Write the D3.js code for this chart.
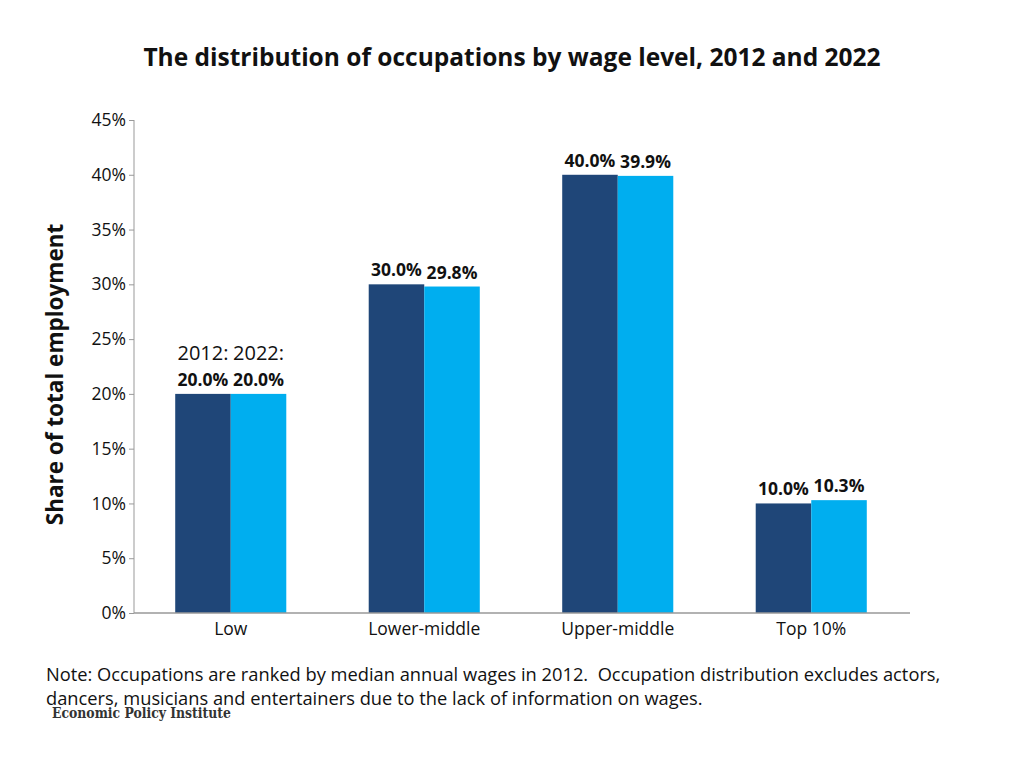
<!DOCTYPE html>
<html>
<head>
<meta charset="utf-8">
<script src="https://cdn.jsdelivr.net/npm/d3@7"></script>
<style>
    body { margin: 0; background: #fff; }
    text { font-family: "Open Sans", "Noto Sans", sans-serif; fill: #111; }
    .axis path, .axis line { stroke: #999; }
</style>
</head>
<body>
<script>
// Data
var categories = ["Low", "Lower-middle", "Upper-middle", "Top 10%"];
var years = ["2012", "2022"];
var values2012 = [20.0, 30.0, 40.0, 10.0];
var values2022 = [20.0, 29.8, 39.9, 10.3];
var yTicks = [0, 5, 10, 15, 20, 25, 30, 35, 40, 45];
var colors = ["#1f4678", "#00aeef"];

var margin = {top: 120, right: 116, bottom: 155, left: 134},
    width = 1024 - margin.left - margin.right,
    height = 768 - margin.top - margin.bottom;

var root = d3.select("body").append("svg")
    .attr("width", 1024)
    .attr("height", 768);

var svg = root.append("g")
    .attr("transform", "translate(" + margin.left + "," + margin.top + ")");

var xScale = d3.scaleBand().domain(categories).range([0, width])
    .paddingInner(0.426).paddingOuter(0.213);
var xSub = d3.scaleBand().domain(years).range([0, xScale.bandwidth()]);
var yScale = d3.scaleLinear().domain([0, 45]).range([height, 0]);

// y axis
var yAxis = d3.axisLeft(yScale).tickValues(yTicks).tickSize(5)
    .tickFormat(function(d) { return d + "%"; });
var gy = svg.append("g").attr("class", "y axis").call(yAxis);
gy.select(".domain").attr("d", "M0,0V" + height);
gy.selectAll("text").attr("font-size", "17.5px").attr("x", -8)
    .attr("fill", "#111");

// bars
var rows = categories.map(function(c, i) {
    return {cat: c, vals: [values2012[i], values2022[i]]};
});
var groups = svg.selectAll(".grp")
    .data(rows)
    .enter().append("g")
    .attr("class", "grp")
    .attr("transform", function(d) {
        return "translate(" + xScale(d.cat) + ",0)";
    });

groups.selectAll("rect")
    .data(function(d) { return d.vals; })
    .enter().append("rect")
    .attr("x", function(d, i) { return xSub(years[i]); })
    .attr("y", function(d) { return yScale(d); })
    .attr("width", xSub.bandwidth())
    .attr("height", function(d) { return height - yScale(d); })
    .attr("fill", function(d, i) { return colors[i]; });

groups.selectAll(".val")
    .data(function(d) { return d.vals; })
    .enter().append("text")
    .attr("class", "val")
    .attr("x", function(d, i) { return xSub(years[i]) + xSub.bandwidth() / 2; })
    .attr("y", function(d) { return yScale(d) - 8; })
    .attr("text-anchor", "middle")
    .attr("font-size", "17.5px")
    .attr("font-weight", "bold")
    .text(function(d) { return d.toFixed(1) + "%"; });

// year labels above the first group only
svg.selectAll(".yr")
    .data(years)
    .enter().append("text")
    .attr("class", "yr")
    .attr("x", function(d) {
        return xScale(categories[0]) + xSub(d) + xSub.bandwidth() / 2;
    })
    .attr("y", yScale(values2012[0]) - 34)
    .attr("text-anchor", "middle")
    .attr("font-size", "20px")
    .text(function(d) { return d + ":"; });

// x axis
var xAxis = d3.axisBottom(xScale).tickSize(0).tickPadding(10);
var gx = svg.append("g").attr("class", "x axis")
    .attr("transform", "translate(0," + height + ")")
    .call(xAxis);
gx.select(".domain").attr("d", "M0,0H" + (width + 2)).attr("stroke-width", 1.5);
gx.selectAll("text").attr("font-size", "17.5px").attr("fill", "#111");

// title
root.append("text")
    .attr("x", 512).attr("y", 66)
    .attr("text-anchor", "middle")
    .attr("font-size", "24.5px")
    .attr("font-weight", "bold")
    .text("The distribution of occupations by wage level, 2012 and 2022");

// y axis title
root.append("text")
    .attr("transform", "translate(63," + (margin.top + height / 2 + 8) + ") rotate(-90)")
    .attr("text-anchor", "middle")
    .attr("font-size", "22.5px")
    .attr("font-weight", "bold")
    .text("Share of total employment");

// note
var note = root.append("text")
    .attr("x", 46).attr("y", 681)
    .attr("font-size", "18.3px")
    .style("white-space", "pre");
note.append("tspan").attr("x", 46)
    .text("Note: Occupations are ranked by median annual wages in 2012.  Occupation distribution excludes actors,");
note.append("tspan").attr("x", 46).attr("dy", 24)
    .text("dancers, musicians and entertainers due to the lack of information on wages.");

// logo text
root.append("text")
    .attr("x", 52).attr("y", 718)
    .style("font-family", "'DejaVu Serif', 'Liberation Serif', serif")
    .style("font-weight", "bold")
    .style("font-size", "14px")
    .style("fill", "#333")
    .attr("textLength", 179)
    .attr("lengthAdjust", "spacingAndGlyphs")
    .text("Economic Policy Institute");
</script>
</body>
</html>
